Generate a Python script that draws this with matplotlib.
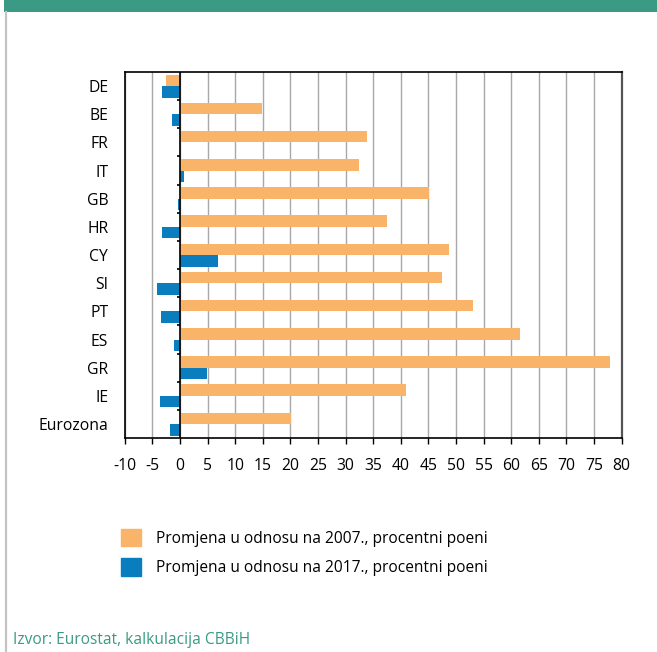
import numpy as np
import matplotlib.pyplot as plt
from matplotlib.patches import Rectangle, Patch
from matplotlib.lines import Line2D

plt.rcParams['font.family'] = ['Open Sans', 'DejaVu Sans']
plt.rcParams['axes.unicode_minus'] = False

countries = ['DE', 'BE', 'FR', 'IT', 'GB', 'HR', 'CY', 'SI', 'PT', 'ES', 'GR', 'IE', 'Eurozona']
change_2007 = [-2.6, 14.9, 33.9, 32.4, 45.1, 37.5, 48.7, 47.4, 53.1, 61.6, 78.0, 41.0, 20.1]
change_2017 = [-3.3, -1.4, 0.0, 0.7, -0.3, -3.2, 6.8, -4.1, -3.4, -1.0, 4.8, -3.7, -1.9]
label_2007 = 'Promjena u odnosu na 2007., procentni poeni'
label_2017 = 'Promjena u odnosu na 2017., procentni poeni'
source = 'Izvor: Eurostat, kalkulacija CBBiH'

orange = '#f9b46a'
blue = '#0a7dbf'
green = '#3a9a84'

fig = plt.figure(figsize=(6.57, 6.52), dpi=100)

# green header strip and grey left rule
fig.add_artist(Rectangle((4 / 657, 1 - 12 / 652), 1, 12 / 652, transform=fig.transFigure,
                         color=green, lw=0))
fig.add_artist(Line2D([5.5 / 657, 5.5 / 657], [0, 1 - 12 / 652], transform=fig.transFigure,
                      color='#c4c4c4', lw=1.6))

ax = fig.add_axes([0.190, 0.328, 0.756, 0.5616])

y = np.arange(len(countries))
h = 0.41
ax.barh(y - h / 2, change_2007, height=h, color=orange, zorder=2)
ax.barh(y + h / 2, change_2017, height=h, color=blue, zorder=2)

ax.set_xlim(-10, 80)
ax.set_ylim(len(countries) - 0.5, -0.5)
ax.set_xticks(np.arange(-10, 81, 5))
ax.set_yticks(y)
ax.set_yticklabels(countries)

ax.grid(axis='x', color='#a8a8a8', lw=1.0, zorder=0)
ax.axvline(0, color='black', lw=1.2, zorder=3)
# small marks on the zero line between categories
ax.hlines(y[:-1] + 0.5, -0.6, 0, color='black', lw=1.2, zorder=3)

for side in ['left', 'top', 'bottom']:
    ax.spines[side].set_color('black')
    ax.spines[side].set_linewidth(1.2)
ax.spines['right'].set_color('#555555')
ax.spines['right'].set_linewidth(1.6)

ax.tick_params(axis='x', length=4, width=1, pad=10, labelsize=11.3, colors='black')
ax.tick_params(axis='y', length=0, pad=12, labelsize=11.3)

handles = [Patch(color=orange, label=label_2007), Patch(color=blue, label=label_2017)]
fig.legend(handles=handles, loc='upper left', bbox_to_anchor=(121 / 657, 1 - 529 / 652),
           frameon=False, borderpad=0, borderaxespad=0,
           prop={'size': 11.2},
           handlelength=1.29, handleheight=1.35, handletextpad=0.95, labelspacing=0.72)

fig.text(13 / 657, 1 - 640 / 652, source, color=green, fontsize=11.2, va='center', ha='left')

fig.savefig('out.png', dpi=100)
